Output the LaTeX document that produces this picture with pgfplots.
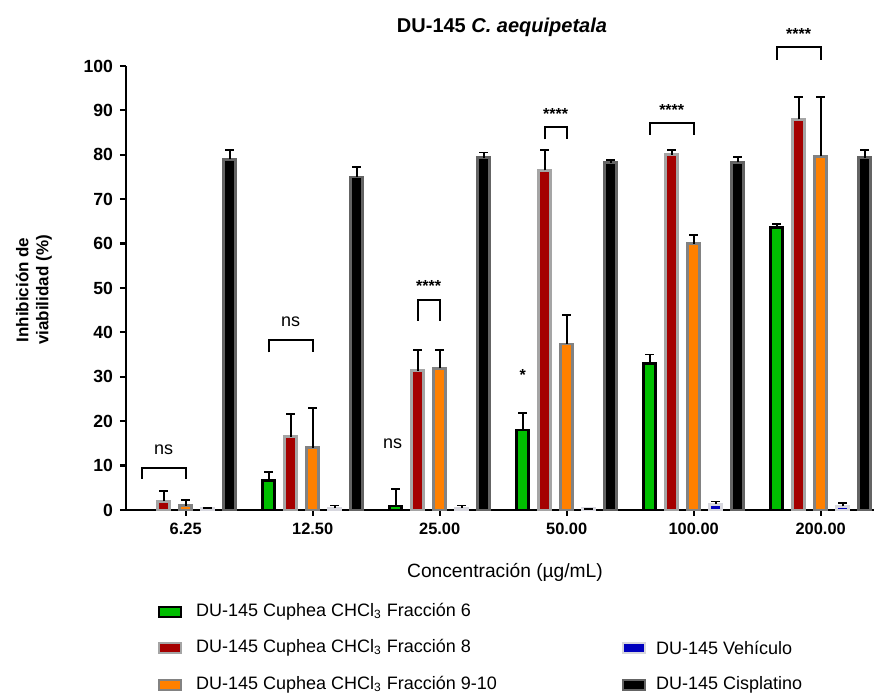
\documentclass[border=0pt]{standalone}
\usepackage{pgfplots}
\usepackage{pgfplotstable}
\pgfplotsset{compat=1.18}
\usepackage{fontspec}
\setmainfont{Liberation Sans}
\definecolor{cgreen}{RGB}{0,190,0}
\definecolor{cred}{RGB}{165,0,0}
\definecolor{corange}{RGB}{255,128,0}
\definecolor{cblue}{RGB}{0,0,190}
\definecolor{gred}{RGB}{165,165,165}
\definecolor{gorange}{RGB}{130,130,130}
\definecolor{gblue}{RGB}{215,215,222}
\definecolor{gblack}{RGB}{100,100,100}

\pgfplotstableread{
x y e
1 6.7 1.8
2 0.9 3.8
3 18 3.9
4 33 2
5 63.7 0.8
}\tgreen
\pgfplotstableread{
x y e
0 2 2.3
1 16.5 5.1
2 31.4 4.6
3 76.5 4.5
4 80 1
5 88 5
}\tred
\pgfplotstableread{
x y e
0 1 1.3
1 14 9
2 31.9 4.1
3 37.4 6.6
4 60 2
5 79.7 13.3
}\torange
\pgfplotstableread{
x y e
0 0.4 0
1 0.4 0.6
2 0.4 0.6
3 0.3 0
4 1.3 0.6
5 0.8 0.7
}\tblue
\pgfplotstableread{
x y e
0 79 2
1 75 2.3
2 79.3 1.2
3 78.2 0.6
4 78.3 1.2
5 79.3 1.7
}\tblack

\begin{document}
\begin{tikzpicture}
\path[use as bounding box] (0,0) rectangle (437pt,347.5pt);
\begin{axis}[
  at={(63pt,92.5pt)}, anchor=south west,
  width=374pt, height=222pt, scale only axis,
  xmin=-0.47, xmax=5.42, ymin=0, ymax=100,
  axis x line*=bottom, axis y line*=left,
  axis line style={line width=1.2pt,-},
  ytick={0,10,...,100},
  xtick={0,...,5},
  xticklabels={6.25,12.50,25.00,50.00,100.00,200.00},
  tick style={line width=1.1pt,black},
  major tick length=3pt,
  tick align=outside,
  /pgf/number format/assume math mode=true,
  xticklabel style={font=\fontsize{8.2}{9}\selectfont\bfseries},
  yticklabel style={font=\fontsize{8.8}{9}\selectfont\bfseries},
  ybar, bar width=5.8pt,
  clip=false,
  error bars/y dir=plus, error bars/y explicit,
  error bars/error bar style={line width=0.9pt, black, solid},
  error bars/error mark options={rotate=90, mark size=2.2pt, line width=0.9pt, black},
]
\addplot[fill=cgreen, draw=black, line width=1.4pt, bar shift=-22pt] table[x=x,y=y,y error=e]{\tgreen};
\addplot[fill=cred, draw=gred, line width=1.4pt, bar shift=-11pt] table[x=x,y=y,y error=e]{\tred};
\addplot[fill=corange, draw=gorange, line width=1.4pt, bar shift=0pt] table[x=x,y=y,y error=e]{\torange};
\addplot[fill=cblue, draw=gblue, line width=1.4pt, bar shift=11pt] table[x=x,y=y,y error=e]{\tblue};
\addplot[fill=black, draw=gblack, line width=1.4pt, bar shift=22pt] table[x=x,y=y,y error=e]{\tblack};

% annotations
\begin{scope}[line width=1.1pt]
\draw (axis cs:-0.346,7) |- (axis cs:0,9.5) -- (axis cs:0,7);
\draw (axis cs:0.654,35.5) |- (axis cs:1,38.3) -- (axis cs:1,35.5);
\draw (axis cs:1.827,42.6) |- (axis cs:2,47.3) -- (axis cs:2,42.6);
\draw (axis cs:2.827,83.5) |- (axis cs:3,86.2) -- (axis cs:3,83.5);
\draw (axis cs:3.654,84.5) |- (axis cs:4,87.2) -- (axis cs:4,84.5);
\draw (axis cs:4.654,101.4) |- (axis cs:5,104.3) -- (axis cs:5,101.4);
\end{scope}
\tikzset{ann/.style={font=\fontsize{9}{10}\selectfont}, star/.style={font=\fontsize{8}{9}\selectfont\bfseries}}
\node[ann] at (axis cs:-0.173,13.5) {ns};
\node[ann] at (axis cs:0.827,42.3) {ns};
\node[ann] at (axis cs:1.63,15) {ns};
\node[star] at (axis cs:1.913,50.5) {****};
\node[star] at (axis cs:2.654,30.4) {*};
\node[star] at (axis cs:2.913,89.2) {****};
\node[star] at (axis cs:3.827,90) {****};
\node[star] at (axis cs:4.827,107.2) {****};
\end{axis}

% title and labels
\node[font=\fontsize{10}{12}\selectfont\bfseries] at (251pt,334pt) {DU-145 \textit{C. aequipetala}};
\node[font=\fontsize{8.5}{10}\selectfont\bfseries, rotate=90, align=center] at (17pt,202.5pt) {Inhibición de\\viabilidad (\%)};
\node[font=\fontsize{9.6}{11}\selectfont] at (252.5pt,61.5pt) {Concentración (µg/mL)};

% legend
\tikzset{lt/.style={font=\fontsize{9}{11}\selectfont, anchor=west}}
\draw[fill=cgreen, draw=black, line width=1.4pt] (79.5pt,39pt) rectangle (90.5pt,44pt);
\node[lt] at (94.5pt,41.5pt) {DU-145 Cuphea CHCl\textsubscript{3} Fracción 6};
\draw[fill=cred, draw=gred, line width=1.4pt] (79.5pt,21pt) rectangle (90.5pt,26pt);
\node[lt] at (94.5pt,23.5pt) {DU-145 Cuphea CHCl\textsubscript{3} Fracción 8};
\draw[fill=corange, draw=gorange, line width=1.4pt] (79.5pt,2.5pt) rectangle (90.5pt,7.5pt);
\node[lt] at (94.5pt,5pt) {DU-145 Cuphea CHCl\textsubscript{3} Fracción 9-10};
\draw[fill=cblue, draw=gblue, line width=1.4pt] (311.5pt,21pt) rectangle (322.5pt,26pt);
\node[lt] at (324.5pt,23.5pt) {DU-145 Vehículo};
\draw[fill=black, draw=gblack, line width=1.4pt] (311.5pt,2.5pt) rectangle (322.5pt,7.5pt);
\node[lt] at (324.5pt,5pt) {DU-145 Cisplatino};
\end{tikzpicture}
\end{document}
